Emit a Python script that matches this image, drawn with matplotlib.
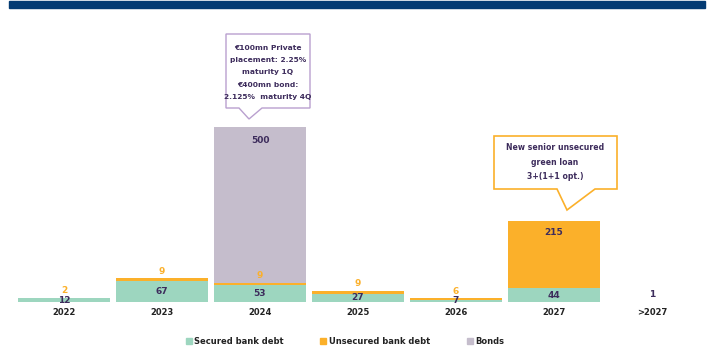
import matplotlib.pyplot as plt
from matplotlib.patches import Polygon, Rectangle
from matplotlib.lines import Line2D

W, H = 712, 363

years = ['2022', '2023', '2024', '2025', '2026', '2027', '>2027']
secured = [12, 67, 53, 27, 7, 44, 1]
unsecured = [2, 9, 9, 9, 6, 215, 0]
bonds = [0, 0, 500, 0, 0, 0, 0]

note_bonds = ['€100mn Private', 'placement: 2.25%', 'maturity 1Q',
              '€400mn bond:', '2.125%  maturity 4Q']
note_loan = ['New senior unsecured', 'green loan', '3+(1+1 opt.)']

c_sec = '#9dd6bf'
c_uns = '#fbb02a'
c_bond = '#c5bdcc'
c_txt = '#3d2c5c'
c_navy = '#033b73'

fig = plt.figure(figsize=(W / 100, H / 100), dpi=100)
ax = fig.add_axes([15 / W, 61 / H, 686 / W, 186.8 / H])

x = list(range(len(years)))
bw = 0.94
ax.bar(x, secured, bw, color=c_sec, linewidth=0)
bot2 = secured
ax.bar(x, unsecured, bw, bottom=bot2, color=c_uns, linewidth=0)
bot3 = [a + b for a, b in zip(secured, unsecured)]
ax.bar(x, bonds, bw, bottom=bot3, color=c_bond, linewidth=0)

kw = dict(ha='center', va='center', fontsize=6.5, fontweight='bold',
          textcoords='offset points')
for i in x:
    s, u, b = secured[i], unsecured[i], bonds[i]
    if s >= 5:
        ax.annotate(str(s), (i, s / 2), xytext=(0, 0), color=c_txt, **kw)
    elif s > 0:
        ax.annotate(str(s), (i, s), xytext=(0, 5), color=c_txt, **kw)
    if u > 0:
        if u < 20:
            ax.annotate(str(u), (i, s + u), xytext=(0, 5), color=c_uns, **kw)
        else:
            ax.annotate(str(u), (i, s + u), xytext=(0, -8), color=c_txt, **kw)
    if b > 0:
        ax.annotate(str(b), (i, s + u + b), xytext=(0, -10), color=c_txt, **kw)

ax.set_xlim(-0.5, len(years) - 0.5)
ax.set_ylim(0, 600)
ax.set_xticks(x)
ax.set_xticklabels(years, fontsize=6, fontweight='bold', color='#222222')
ax.tick_params(axis='x', length=0, pad=4)
ax.set_yticks([])
for sp in ax.spines.values():
    sp.set_visible(False)


def px(pts):
    return [(a / W, 1 - b / H) for a, b in pts]


def callout(x0, x1, y0, y1, tip, base, edge, lw):
    pts = [(x0, y0), (x1, y0), (x1, y1), (base[1], y1), tip, (base[0], y1), (x0, y1)]
    fig.add_artist(Polygon(px(pts), closed=True, transform=fig.transFigure,
                           facecolor='white', edgecolor=edge, linewidth=lw))


# top banner
fig.add_artist(Rectangle((9 / W, 1 - 8 / H), 696 / W, 7 / H,
                         transform=fig.transFigure, color=c_navy))

callout(226, 310, 34, 108, (249, 119), (239, 262), '#b9a0cf', 1.0)
for k, line in enumerate(note_bonds):
    fig.text(268 / W, 1 - (48 + 12.2 * k) / H, line, ha='center', va='center',
             fontsize=5.4, fontweight='bold', color=c_txt)

callout(494, 617, 136, 189, (567, 210), (557, 595), c_uns, 1.2)
for k, line in enumerate(note_loan):
    fig.text(555 / W, 1 - (148 + 14.5 * k) / H, line, ha='center', va='center',
             fontsize=5.6, fontweight='bold', color=c_txt)

handles = [Line2D([], [], marker='s', ls='', color=c, markersize=4.5)
           for c in (c_sec, c_uns, c_bond)]
fig.legend(handles, ['Secured bank debt', 'Unsecured bank debt', 'Bonds'],
           loc='center', bbox_to_anchor=(345 / W, 1 - 341 / H), ncol=3,
           frameon=False, prop={'size': 6, 'weight': 'bold'},
           handlelength=0.7, handletextpad=0.3, columnspacing=4.4,
           labelcolor='#222222')

fig.savefig('out.png', dpi=100)
